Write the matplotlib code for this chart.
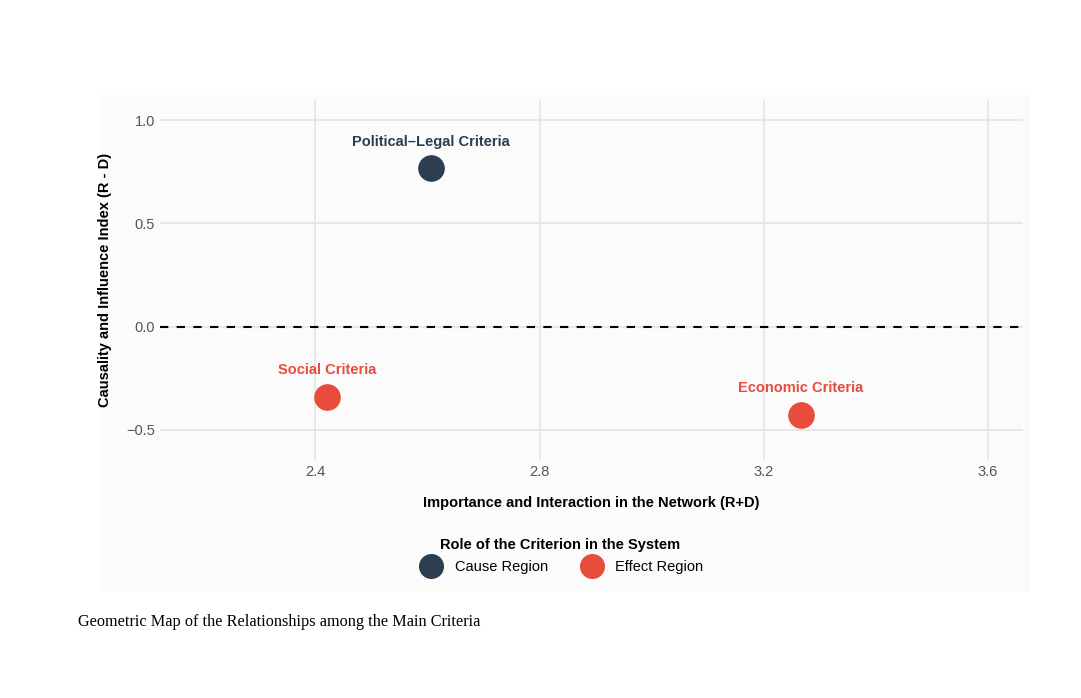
import matplotlib.pyplot as plt
from matplotlib.patches import Rectangle
from matplotlib.lines import Line2D

plt.rcParams['font.family'] = ['Liberation Sans', 'DejaVu Sans']

labels = ['Political–Legal Criteria', 'Social Criteria', 'Economic Criteria']
r_plus_d = [2.607, 2.421, 3.266]
r_minus_d = [0.767, -0.34, -0.427]
roles = ['Cause Region', 'Effect Region', 'Effect Region']
role_colors = {'Cause Region': '#2c3e50', 'Effect Region': '#e74c3c'}

W, H = 1081, 698
fig = plt.figure(figsize=(W / 100, H / 100), dpi=100)
fig.patches.append(Rectangle((100 / W, 1 - 592 / H), 930 / W, 497 / H,
                             transform=fig.transFigure, facecolor='#fbfbfb',
                             edgecolor='none', zorder=-5))
ax = fig.add_axes([160 / W, 1 - 460 / H, 863 / W, 360 / H])
ax.set_facecolor('none')
for s in ax.spines.values():
    s.set_visible(False)
ax.grid(True, color='#e3e3e3', linewidth=1.2)
ax.set_axisbelow(True)
ax.tick_params(length=0, colors='#555555', labelsize=10.5)
ax.set_xlim(2.123, 3.6625)
ax.set_ylim(-0.646, 1.097)
ax.set_xticks([2.4, 2.8, 3.2, 3.6])
ax.set_yticks([-0.5, 0.0, 0.5, 1.0])
ax.axhline(0, color='black', linestyle=(0, (4, 4)), linewidth=1.5)

for lab, x, y, role in zip(labels, r_plus_d, r_minus_d, roles):
    c = role_colors[role]
    ax.scatter(x, y, s=330, color=c, zorder=3)
    ax.annotate(lab, (x, y), xytext=(0, 14), textcoords='offset points',
                ha='center', va='bottom', color=c, fontsize=10.5, fontweight='bold')

ax.set_xlabel('Importance and Interaction in the Network (R+D)',
              fontsize=10.5, fontweight='bold', labelpad=12)
ax.set_ylabel('Causality and Influence Index (R - D)',
              fontsize=10.5, fontweight='bold', labelpad=10)

handles = [Line2D([], [], marker='o', linestyle='none', markersize=17,
                  color=role_colors[r], label=r) for r in ['Cause Region', 'Effect Region']]
leg = fig.legend(handles=handles, loc='center', bbox_to_anchor=(560 / W, 1 - 556 / H),
                 ncol=2, frameon=False, fontsize=10.5, title='Role of the Criterion in the System',
                 title_fontproperties={'weight': 'bold', 'size': 10.5}, columnspacing=2.0,
                 handletextpad=0.6)

fig.text(78 / W, 1 - 622 / H, 'Geometric Map of the Relationships among the Main Criteria',
         family='Liberation Serif', fontsize=11.7, va='center')

fig.savefig('out.png', dpi=100)
